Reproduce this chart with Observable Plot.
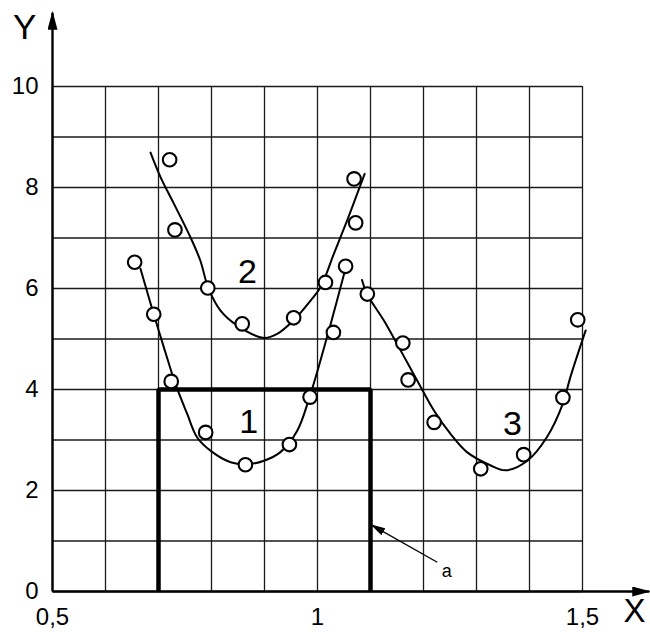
<!DOCTYPE html>
<html>
<head>
<meta charset="utf-8">
<script src="https://cdn.jsdelivr.net/npm/d3@7"></script>
<script src="https://cdn.jsdelivr.net/npm/@observablehq/plot@0.6"></script>
<style>
  html, body { margin: 0; padding: 0; background: #fff; }
  #chart svg { display: block; }
</style>
</head>
<body>
<div id="chart"></div>
<script>
// ---- grid & ticks ----
const xGrid = [0.5, 0.6, 0.7, 0.8, 0.9, 1.0, 1.1, 1.2, 1.3, 1.4, 1.5];
const yGrid = [0, 1, 2, 3, 4, 5, 6, 7, 8, 9, 10];
const xTicks = [0.5, 1, 1.5];
const xTickLabels = ["0,5", "1", "1,5"];
const yTicks = [0, 2, 4, 6, 8, 10];

// ---- measured points (circles) ----
const pts1X = [0.655, 0.691, 0.724, 0.789, 0.864, 0.947, 0.986, 1.030, 1.053];
const pts1Y = [6.52, 5.49, 4.16, 3.15, 2.51, 2.91, 3.85, 5.13, 6.44];
const pts2X = [0.721, 0.731, 0.793, 0.858, 0.955, 1.015, 1.072, 1.069];
const pts2Y = [8.55, 7.16, 6.01, 5.30, 5.42, 6.12, 7.30, 8.17];
const pts3X = [1.094, 1.161, 1.171, 1.220, 1.308, 1.389, 1.463, 1.491];
const pts3Y = [5.89, 4.92, 4.19, 3.35, 2.43, 2.71, 3.84, 5.38];

// ---- fitted curves ----
const crv1X = [0.666, 0.691, 0.710, 0.732, 0.754, 0.773, 0.798, 0.836, 0.866, 0.899, 0.930, 0.962, 0.985, 1.002, 1.025, 1.053];
const crv1Y = [6.39, 5.49, 4.84, 4.11, 3.52, 3.05, 2.79, 2.56, 2.52, 2.59, 2.76, 3.19, 3.85, 4.44, 5.30, 6.40];
const crv2X = [0.685, 0.704, 0.729, 0.760, 0.779, 0.794, 0.817, 0.848, 0.899, 0.924, 0.955, 0.987, 1.006, 1.031, 1.056, 1.075, 1.089];
const crv2Y = [8.69, 8.20, 7.68, 7.02, 6.55, 6.01, 5.56, 5.27, 5.02, 5.10, 5.37, 5.76, 6.03, 6.69, 7.35, 7.88, 8.27];
const crv3X = [1.084, 1.094, 1.125, 1.157, 1.188, 1.220, 1.251, 1.282, 1.326, 1.355, 1.396, 1.433, 1.463, 1.477, 1.506];
const crv3Y = [6.17, 5.88, 5.37, 4.77, 4.18, 3.58, 3.12, 2.76, 2.50, 2.40, 2.59, 3.06, 3.72, 4.24, 5.17];

// ---- series labels ----
const seriesNames = ["1", "2", "3"];
const seriesLabelX = [0.870, 0.868, 1.368];
const seriesLabelY = [3.35, 6.32, 3.31];

// ---- thick region outline (open at bottom) ----
const regionX = [0.7, 0.7, 1.1, 1.1];
const regionY = [0, 4, 4, 0];

// ---- pointer "a" ----
const pointerFrom = [1.226, 0.58];
const pointerTo = [1.103, 1.31];
const pointerLabel = "a";
const pointerLabelPos = [1.244, 0.40];

// ---- axes extents & titles ----
const axisXEnd = 1.626;
const axisYEnd = 11.46;
const axisTitleXText = "X";
const axisTitleXPos = [1.619, -0.40];
const axisTitleYText = "Y";
const axisTitleYPos = [0.4475, 11.17];

const zip = (xs, ys) => xs.map((x, i) => ({x, y: ys[i]}));

function filledHead(len, wid) {
  return function (color) {
    const ns = "http://www.w3.org/2000/svg";
    const m = document.createElementNS(ns, "marker");
    m.setAttribute("viewBox", `0 ${-wid / 2} ${len} ${wid}`);
    m.setAttribute("refX", len - 2);
    m.setAttribute("refY", 0);
    m.setAttribute("markerUnits", "userSpaceOnUse");
    m.setAttribute("markerWidth", len);
    m.setAttribute("markerHeight", wid);
    m.setAttribute("orient", "auto");
    const p = document.createElementNS(ns, "path");
    p.setAttribute("d", `M0,${-wid / 2}L${len},0L0,${wid / 2}Z`);
    p.setAttribute("fill", "black");
    p.setAttribute("stroke", "none");
    m.appendChild(p);
    return m;
  };
}

const font = "'Liberation Sans', Arial, Helvetica, sans-serif";

const chart = Plot.plot({
  width: 650,
  height: 632,
  marginTop: 0, marginRight: 0, marginBottom: 0, marginLeft: 0,
  x: {domain: [0.5, 1.5], range: [52, 582], axis: null},
  y: {domain: [0, 10], range: [591, 86], axis: null},
  style: {fontFamily: font, background: "white", overflow: "visible", color: "black"},
  marks: [
    // grid
    Plot.ruleX(xGrid, {x: d => d, y1: 0, y2: 10, stroke: "#1a1a1a", strokeWidth: 1.3}),
    Plot.ruleY(yGrid, {y: d => d, x1: 0.5, x2: 1.5, stroke: "#1a1a1a", strokeWidth: 1.3}),
    // axes with arrows
    Plot.link([0], {x1: 0.5, y1: 0, x2: 0.5, y2: axisYEnd, stroke: "black", strokeWidth: 2.4, markerEnd: filledHead(19, 10)}),
    Plot.link([0], {x1: 0.5, y1: 0, x2: axisXEnd, y2: 0, stroke: "black", strokeWidth: 2.4, markerEnd: filledHead(19, 10)}),
    // thick outline
    Plot.line(zip(regionX, regionY), {x: "x", y: "y", stroke: "black", strokeWidth: 4.5, strokeLinejoin: "miter", strokeLinecap: "butt"}),
    // pointer a
    Plot.link([0], {x1: pointerFrom[0], y1: pointerFrom[1], x2: pointerTo[0], y2: pointerTo[1], stroke: "black", strokeWidth: 1.3, markerEnd: filledHead(15, 8)}),
    Plot.text([pointerLabel], {x: pointerLabelPos[0], y: pointerLabelPos[1], text: d => d, fontSize: 18, lineAnchor: "middle", fill: "black"}),
    // curves
    Plot.line(zip(crv1X, crv1Y), {x: "x", y: "y", curve: "catmull-rom", stroke: "black", strokeWidth: 2}),
    Plot.line(zip(crv2X, crv2Y), {x: "x", y: "y", curve: "catmull-rom", stroke: "black", strokeWidth: 2}),
    Plot.line(zip(crv3X, crv3Y), {x: "x", y: "y", curve: "catmull-rom", stroke: "black", strokeWidth: 2}),
    // points
    Plot.dot(zip(pts1X, pts1Y), {x: "x", y: "y", r: 6.8, stroke: "black", strokeWidth: 2.1, fill: "white"}),
    Plot.dot(zip(pts2X, pts2Y), {x: "x", y: "y", r: 6.8, stroke: "black", strokeWidth: 2.1, fill: "white"}),
    Plot.dot(zip(pts3X, pts3Y), {x: "x", y: "y", r: 6.8, stroke: "black", strokeWidth: 2.1, fill: "white"}),
    // series labels
    Plot.text(seriesNames, {x: (d, i) => seriesLabelX[i], y: (d, i) => seriesLabelY[i], text: d => d, fontSize: 34, lineAnchor: "middle", fill: "black"}),
    // tick labels
    Plot.text(xTicks, {x: d => d, y: 0, text: (d, i) => xTickLabels[i], dy: 26, fontSize: 24, lineAnchor: "middle", fill: "black"}),
    Plot.text(yTicks, {x: 0.5, y: d => d, text: d => String(d), dx: -14, textAnchor: "end", fontSize: 24, lineAnchor: "middle", fill: "black"}),
    // axis titles
    Plot.text([axisTitleXText], {x: axisTitleXPos[0], y: axisTitleXPos[1], text: d => d, textAnchor: "end", fontSize: 33, lineAnchor: "middle", fill: "black"}),
    Plot.text([axisTitleYText], {x: axisTitleYPos[0], y: axisTitleYPos[1], text: d => d, fontSize: 35, lineAnchor: "middle", fill: "black"})
  ]
});

document.getElementById("chart").appendChild(chart);
</script>
</body>
</html>
